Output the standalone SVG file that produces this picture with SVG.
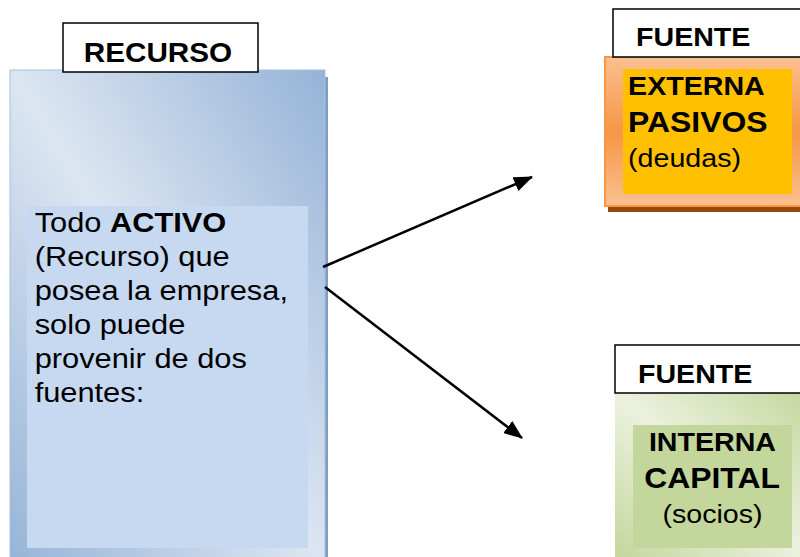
<svg xmlns="http://www.w3.org/2000/svg" width="800" height="557" viewBox="0 0 800 557">
  <defs>
    <linearGradient id="gBlue" x1="0" y1="1" x2="1" y2="0">
      <stop offset="0" stop-color="#95b3d7"/>
      <stop offset="0.5" stop-color="#dce6f2"/>
      <stop offset="1" stop-color="#95b3d7"/>
    </linearGradient>
    <linearGradient id="gGreen" x1="0" y1="1" x2="1" y2="0">
      <stop offset="0" stop-color="#c3d69b"/>
      <stop offset="0.5" stop-color="#ebf1de"/>
      <stop offset="1" stop-color="#c3d69b"/>
    </linearGradient>
    <linearGradient id="gOrange" x1="0" y1="0" x2="0" y2="1">
      <stop offset="0" stop-color="#fac090"/>
      <stop offset="0.5" stop-color="#f79646"/>
      <stop offset="1" stop-color="#fac090"/>
    </linearGradient>
    <marker id="arrow" markerUnits="userSpaceOnUse" markerWidth="19" markerHeight="15" viewBox="0 0 19 15" refX="18" refY="7.5" orient="auto">
      <path d="M0,0 L19,7.5 L0,15 z" fill="#000"/>
    </marker>
  </defs>
  <style>
    .lbl { fill: #ffffff; stroke: #000000; stroke-width: 1.5; }
    .t { font-family: "Liberation Sans", Arial, sans-serif; fill: #000000; }
    .b { font-weight: bold; }
    .conn { stroke: #000000; stroke-width: 2.5; fill: none; marker-end: url(#arrow); }
  </style>

  <g id="recurso">
    <rect x="325" y="77" width="3" height="490" fill="#7f9cc2"/>
    <rect x="10" y="70" width="315" height="500" fill="url(#gBlue)" stroke="#a9c0de" stroke-width="1"/>
    <rect x="27" y="206" width="281" height="342" fill="#c6d9f1"/>
    <rect class="lbl" x="63" y="23" width="195" height="49"/>
    <g transform="scale(1.1 1)">
      <text class="t b" x="143.6" y="62" font-size="27" text-anchor="middle">RECURSO</text>
      <g class="t" font-size="28">
        <text x="31.5" y="232">Todo <tspan class="b">ACTIVO</tspan></text>
        <text x="31.5" y="266">(Recurso) que</text>
        <text x="31.5" y="300">posea la empresa,</text>
        <text x="31.5" y="334">solo puede</text>
        <text x="31.5" y="368">provenir de dos</text>
        <text x="31.5" y="402">fuentes:</text>
      </g>
    </g>
  </g>

  <g id="fuente-externa">
    <rect x="608" y="64" width="200" height="148" fill="#984807"/>
    <rect x="605" y="57" width="200" height="149" fill="url(#gOrange)" stroke="#f79646" stroke-width="2"/>
    <rect x="623" y="69" width="169" height="125" fill="#ffc000"/>
    <rect class="lbl" x="613" y="9" width="200" height="48"/>
    <g transform="scale(1.1 1)" class="t">
      <text class="b" x="578.2" y="46" font-size="26">FUENTE</text>
      <text class="b" x="571" y="95" font-size="26">EXTERNA</text>
      <text class="b" x="571" y="132" font-size="29">PASIVOS</text>
      <text x="571" y="167" font-size="26">(deudas)</text>
    </g>
  </g>

  <g id="fuente-interna">
    <rect x="615" y="393" width="200" height="170" fill="url(#gGreen)"/>
    <rect x="633" y="425" width="159" height="123" fill="#c3d69b"/>
    <rect class="lbl" x="615" y="345" width="200" height="48"/>
    <g transform="scale(1.1 1)" class="t">
      <text class="b" x="580" y="383" font-size="26">FUENTE</text>
      <text class="b" x="647.7" y="451" font-size="26" text-anchor="middle">INTERNA</text>
      <text class="b" x="647.3" y="488" font-size="29" text-anchor="middle">CAPITAL</text>
      <text x="647.7" y="523" font-size="26" text-anchor="middle">(socios)</text>
    </g>
  </g>

  <g id="connectors">
    <line class="conn" x1="323" y1="267" x2="532" y2="177"/>
    <line class="conn" x1="325" y1="287" x2="522" y2="438"/>
  </g>
</svg>
